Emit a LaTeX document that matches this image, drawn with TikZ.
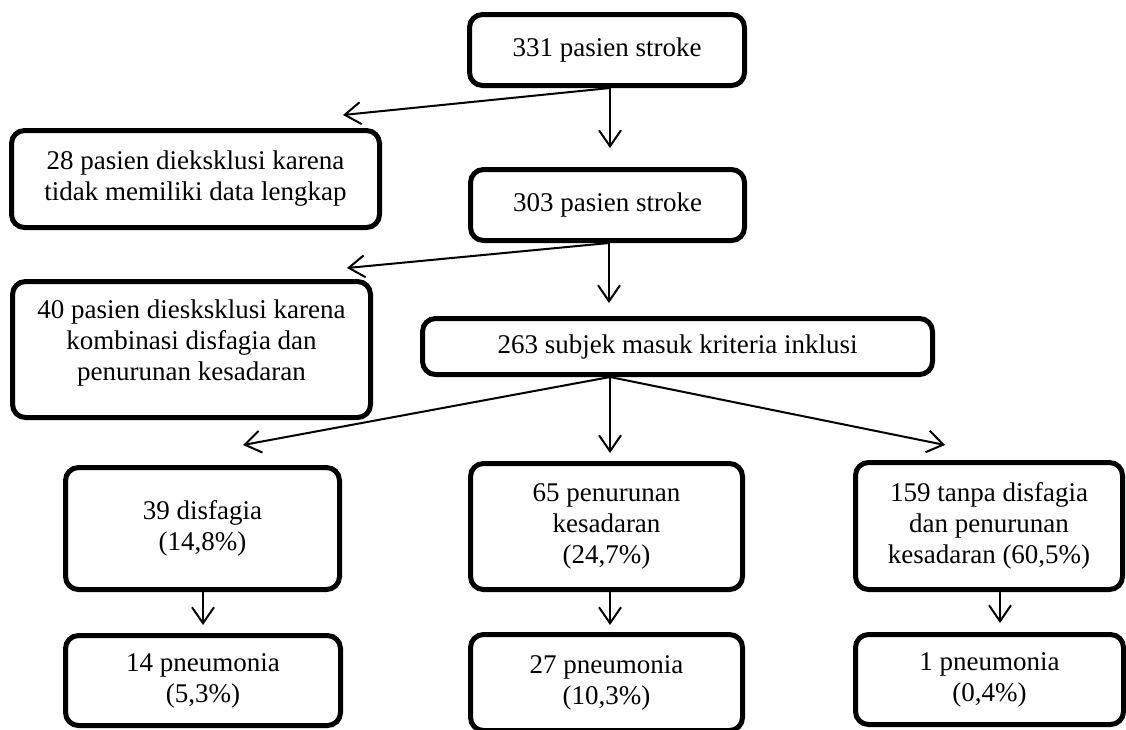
\documentclass[tikz,border=0pt]{standalone}
\usepackage{fontspec}
\setmainfont{Liberation Serif}
\usetikzlibrary{arrows.meta}
\begin{document}
\begin{tikzpicture}[x=1pt,y=-1pt,
  txt/.style={align=center, inner sep=0pt, font=\fontsize{27}{31}\selectfont},
  box/.style={txt, draw=black, line width=5pt, rounded corners=13pt},
  arr/.style={draw=black, line width=2pt, -{Straight Barb[length=16pt,width=22pt]}}]
\useasboundingbox (0,0) rectangle (1126,729);
% boxes
\node[box, minimum width=275pt, minimum height=71pt] (A) at (607,50) {331 pasien stroke};
\node[box, minimum width=368pt, minimum height=97pt] (B) at (195.5,179) {28 pasien dieksklusi karena\\tidak memiliki data lengkap};
\node[box, minimum width=274pt, minimum height=71pt] (C) at (607.5,205) {303 pasien stroke};
\node[box, minimum width=358pt, minimum height=136pt] (D) at (191.5,349.5) {};
\node[txt] (Dt) at (191.5,343) {40 pasien diesksklusi karena\\kombinasi disfagia dan\\penurunan kesadaran};
\node[box, minimum width=510pt, minimum height=56pt] (E) at (677.5,346.5) {263 subjek masuk kriteria inklusi};
\node[box, minimum width=274pt, minimum height=122pt] (F) at (202.5,528.5) {39 disfagia\\(14,8\%)};
\node[box, minimum width=272pt, minimum height=126pt] (G) at (606.5,526.5) {65 penurunan\\kesadaran\\(24,7\%)};
\node[box, minimum width=267pt, minimum height=127pt] (H) at (989,526) {159 tanpa disfagia\\dan penurunan\\kesadaran (60,5\%)};
\node[box, minimum width=275pt, minimum height=90pt] (I) at (203,680.5) {14 pneumonia\\(5,3\%)};
\node[box, minimum width=272pt, minimum height=96pt] (J) at (606.5,682.5) {27 pneumonia\\(10,3\%)};
\node[box, minimum width=268pt, minimum height=90pt] (K) at (989.5,679.5) {1 pneumonia\\(0,4\%)};
% arrow tips
\coordinate (tAB) at (343,115);
\coordinate (tAC) at (610,148);
\coordinate (tCD) at (347,268);
\coordinate (tCE) at (609,303);
\coordinate (tEF) at (243,445);
\coordinate (tEG) at (610,453);
\coordinate (tEH) at (945,445);
\coordinate (tFI) at (203,625);
\coordinate (tGJ) at (610,625);
\coordinate (tHK) at (1000,623);
% connectors
\draw[arr] (tAC |- A.south) -- (tAB);
\draw[arr] (tAC |- A.south) -- (tAC);
\draw[arr] (tCE |- C.south) -- (tCD);
\draw[arr] (tCE |- C.south) -- (tCE);
\draw[arr] (tEG |- E.south) -- (tEF);
\draw[arr] (tEG |- E.south) -- (tEG);
\draw[arr] (tEG |- E.south) -- (tEH);
\draw[arr] (tFI |- F.south) -- (tFI);
\draw[arr] (tGJ |- G.south) -- (tGJ);
\draw[arr] (tHK |- H.south) -- (tHK);
\end{tikzpicture}
\end{document}
